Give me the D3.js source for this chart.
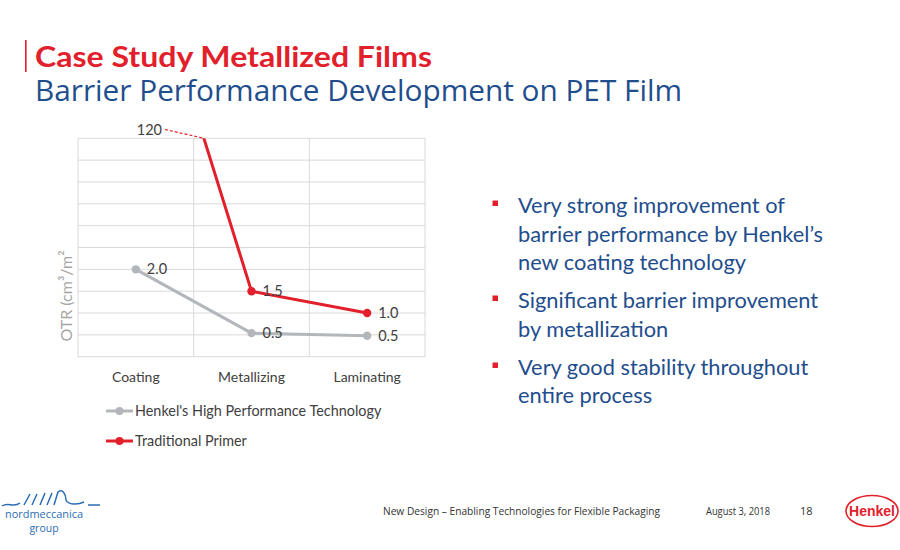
<!DOCTYPE html>
<html>
<head>
<meta charset="utf-8">
<script src="https://cdn.jsdelivr.net/npm/d3@7"></script>
<style>
  html, body { margin: 0; padding: 0; background: #fff; }
  svg { display: block; }
</style>
</head>
<body>
<svg id="chart" width="900" height="550"></svg>
<script>
// ---- data ----
const categories = ["Coating", "Metallizing", "Laminating"];
const henkelValues = [2.0, 0.54, 0.48];
const primerValues = [120, 1.5, 1.0];
const seriesNames = ["Henkel's High Performance Technology", "Traditional Primer"];
const yTicks = [0, 0.5, 1, 1.5, 2, 2.5, 3, 3.5, 4, 4.5, 5];
const axisBreakValue = 10; // off-scale values are drawn toward this value and clipped
const bullets = [
  ["Very strong improvement of", "barrier performance by Henkel\u2019s", "new coating technology"],
  ["Significant barrier improvement", "by metallization"],
  ["Very good stability throughout", "entire process"]
];

const RED = "#e2202b", GRAY = "#b3b6bb", BLUE = "#1f4e8d", TXT = "#404040";
const svg = d3.select("#chart");

// ---- header ----
svg.append("rect").attr("x", 25).attr("y", 40).attr("width", 1.6).attr("height", 32).attr("fill", RED);
svg.append("text").attr("x", 35).attr("y", 67)
  .attr("font-family", "Lato, 'Open Sans', sans-serif").attr("font-weight", 700)
  .attr("font-size", 28).attr("fill", RED)
  .attr("textLength", 397).attr("lengthAdjust", "spacingAndGlyphs")
  .text("Case Study Metallized Films");
svg.append("text").attr("x", 35).attr("y", 101)
  .attr("font-family", "'Open Sans', Lato, sans-serif")
  .attr("font-size", 28.5).attr("fill", BLUE)
  .attr("textLength", 647).attr("lengthAdjust", "spacingAndGlyphs")
  .text("Barrier Performance Development on PET Film");

// ---- chart ----
const plot = { left: 78, right: 425, top: 138.3, bottom: 356.7 };
const x = d3.scaleBand().domain(categories).range([plot.left, plot.right]);
const y = d3.scaleLinear().domain([0, 5]).range([plot.bottom, plot.top]);
const cx = c => x(c) + x.bandwidth() / 2;

const g = svg.append("g");
// horizontal gridlines
g.selectAll(".hg").data(yTicks).join("line")
  .attr("x1", plot.left).attr("x2", plot.right)
  .attr("y1", d => y(d)).attr("y2", d => y(d))
  .attr("stroke", "#d9d9d9").attr("stroke-width", 1);
// vertical gridlines at band boundaries
const vBounds = categories.map(c => x(c)).concat([plot.right]);
g.selectAll(".vg").data(vBounds).join("line")
  .attr("x1", d => d).attr("x2", d => d)
  .attr("y1", plot.top).attr("y2", plot.bottom)
  .attr("stroke", "#d9d9d9").attr("stroke-width", 1);

// category axis labels
g.selectAll(".cat").data(categories).join("text")
  .attr("x", d => cx(d)).attr("y", 382)
  .attr("text-anchor", "middle")
  .attr("font-family", "Lato, 'Open Sans', sans-serif").attr("font-size", 14)
  .attr("fill", TXT).text(d => d);

// y title
svg.append("text")
  .attr("transform", "translate(72,296) rotate(-90)")
  .attr("text-anchor", "middle")
  .attr("font-family", "Lato, 'Open Sans', sans-serif").attr("font-size", 16)
  .attr("fill", "#a6a6a6").text("OTR (cm\u00B3/m\u00B2");

// clip
svg.append("clipPath").attr("id", "plotclip").append("rect")
  .attr("x", plot.left - 10).attr("y", plot.top).attr("width", plot.right - plot.left + 20)
  .attr("height", plot.bottom - plot.top + 10);

const drawVal = v => Math.min(v, axisBreakValue);
const line = d3.line().x((d, i) => cx(categories[i])).y(d => y(drawVal(d)));
const fmt = v => v >= 10 ? d3.format("d")(v) : d3.format(".1f")(v);

function drawSeries(values, color) {
  const s = g.append("g").attr("clip-path", "url(#plotclip)");
  s.append("path").datum(values).attr("d", line)
    .attr("fill", "none").attr("stroke", color).attr("stroke-width", 3)
    .attr("stroke-linejoin", "round");
  s.selectAll("circle").data(values).join("circle")
    .attr("cx", (d, i) => cx(categories[i])).attr("cy", d => y(drawVal(d)))
    .attr("r", 4.2).attr("fill", color);
  // labels for on-scale points
  g.selectAll(null).data(values.map((v, i) => ({ v, i })).filter(d => d.v <= 5)).join("text")
    .attr("x", d => cx(categories[d.i]) + 11).attr("y", d => y(d.v) + 5)
    .attr("font-family", "Lato, 'Open Sans', sans-serif").attr("font-size", 14.5)
    .attr("fill", TXT).text(d => fmt(d.v));
}
drawSeries(henkelValues, GRAY);
drawSeries(primerValues, RED);

// off-scale label with dashed leader to where the line leaves the plot
primerValues.forEach((v, i) => {
  if (v <= 5 || i >= primerValues.length - 1) return;
  const x0 = cx(categories[i]), y0 = y(drawVal(v));
  const x1 = cx(categories[i + 1]), y1 = y(primerValues[i + 1]);
  const t = (plot.top - y0) / (y1 - y0);
  const xe = x0 + t * (x1 - x0);
  g.append("line").attr("x1", 165).attr("y1", 129.5).attr("x2", xe).attr("y2", plot.top)
    .attr("stroke", RED).attr("stroke-width", 1.2).attr("stroke-dasharray", "3,2");
  g.append("text").attr("x", 162).attr("y", 135).attr("text-anchor", "end")
    .attr("font-family", "Lato, 'Open Sans', sans-serif").attr("font-size", 14.5)
    .attr("fill", TXT).text(fmt(v));
});

// legend
const legend = svg.append("g");
const legendColors = [GRAY, RED];
seriesNames.forEach((name, i) => {
  const ly = 411 + i * 30;
  legend.append("line").attr("x1", 106).attr("x2", 133).attr("y1", ly).attr("y2", ly)
    .attr("stroke", legendColors[i]).attr("stroke-width", 3);
  legend.append("circle").attr("cx", 119.5).attr("cy", ly).attr("r", 4).attr("fill", legendColors[i]);
  legend.append("text").attr("x", 135).attr("y", ly + 5)
    .attr("font-family", "Lato, 'Open Sans', sans-serif").attr("font-size", 14.4)
    .attr("fill", TXT).text(name);
});

// ---- bullets ----
const lineBase = [[213, 241.5, 270], [308, 336.5], [375, 403]];
const bl = svg.append("g");
bullets.forEach((lines, bi) => {
  bl.append("rect").attr("x", 492.5).attr("y", lineBase[bi][0] - 12.5).attr("width", 5.5).attr("height", 5.5).attr("fill", RED);
  lines.forEach((t, li) => {
    bl.append("text").attr("x", 518).attr("y", lineBase[bi][li])
      .attr("font-family", "Lato, 'Open Sans', sans-serif").attr("font-size", 21.8)
      .attr("fill", BLUE).text(t);
  });
});

// ---- footer ----
const ft = svg.append("g").attr("font-family", "'Liberation Sans Narrow', 'Open Sans', sans-serif").attr("font-size", 11).attr("fill", "#333");
ft.append("text").attr("x", 383).attr("y", 515).attr("textLength", 277).attr("lengthAdjust", "spacingAndGlyphs")
  .text("New Design \u2013 Enabling Technologies for Flexible Packaging");
ft.append("text").attr("x", 706).attr("y", 515).attr("textLength", 64).attr("lengthAdjust", "spacingAndGlyphs").text("August 3, 2018");
ft.append("text").attr("x", 800).attr("y", 515).text("18");

// Henkel logo
svg.append("ellipse").attr("cx", 872).attr("cy", 511).attr("rx", 26).attr("ry", 15.5)
  .attr("fill", "#fff").attr("stroke", RED).attr("stroke-width", 1.6);
svg.append("text").attr("x", 872).attr("y", 516).attr("text-anchor", "middle")
  .attr("font-family", "'Liberation Sans Narrow', Arial, sans-serif").attr("font-weight", 700)
  .attr("font-size", 14).attr("fill", RED).text("Henkel");

// nordmeccanica logo (approximate)
const nl = svg.append("g");
nl.append("path").attr("d", "M2,506 C8,502 14,508 20,503 M24,505 L30,494 M32,505 L37,494 M40,505 L45,493 M47,505 L52,493 M54,505 L58,492 C62,488 66,494 66,500 C68,505 78,505 84,502 M88,505 L100,505")
  .attr("fill", "none").attr("stroke", "#2b6cb5").attr("stroke-width", 1.5);
nl.append("text").attr("x", 44).attr("y", 518).attr("text-anchor", "middle")
  .attr("font-family", "'Open Sans', sans-serif").attr("font-size", 10.5).attr("fill", "#2b6cb5")
  .attr("textLength", 78).attr("lengthAdjust", "spacingAndGlyphs").text("nordmeccanica");
nl.append("text").attr("x", 44).attr("y", 532).attr("text-anchor", "middle")
  .attr("font-family", "'Open Sans', sans-serif").attr("font-size", 10.5).attr("fill", "#2b6cb5").text("group");
</script>
</body>
</html>
